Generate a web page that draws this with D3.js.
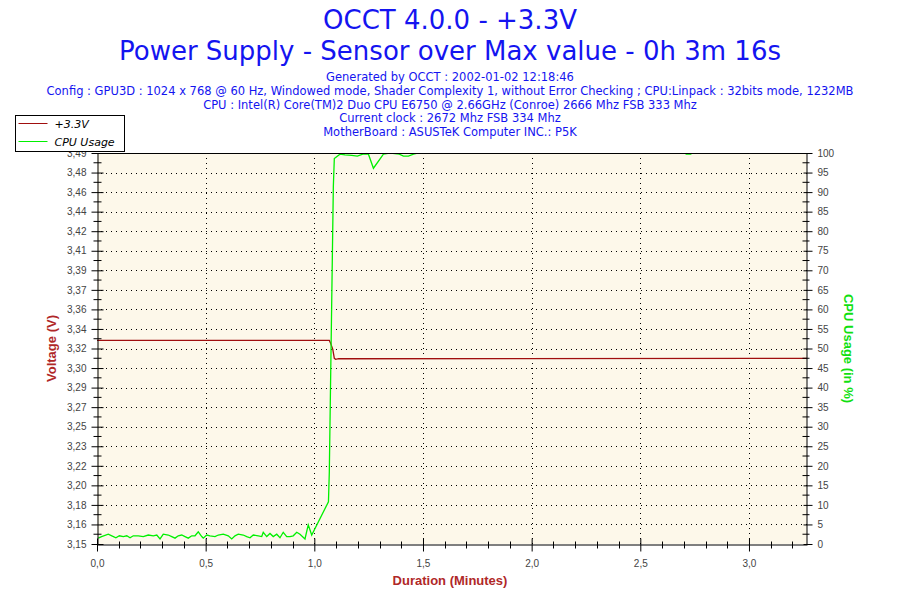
<!DOCTYPE html>
<html>
<head>
<meta charset="utf-8">
<script src="https://cdn.jsdelivr.net/npm/d3@7/dist/d3.min.js"></script>
<style>
  body { margin: 0; background: #fff; }
</style>
</head>
<body>
<svg id="chart" width="900" height="600" font-family="DejaVu Sans, Verdana, sans-serif"></svg>
<script>
// --- DATA --------------------------------------------------------------------
const titleLines = ['OCCT 4.0.0 - +3.3V', 'Power Supply - Sensor over Max value - 0h 3m 16s'];
const infoLines = [
  'Generated by OCCT : 2002-01-02 12:18:46',
  'Config : GPU3D : 1024 x 768 @ 60 Hz, Windowed mode, Shader Complexity 1, without Error Checking ; CPU:Linpack : 32bits mode, 1232MB',
  'CPU : Intel(R) Core(TM)2 Duo CPU E6750 @ 2.66GHz (Conroe) 2666 Mhz FSB 333 Mhz',
  'Current clock : 2672 Mhz FSB 334 Mhz',
  'MotherBoard : ASUSTeK Computer INC.: P5K'
];
const seriesNames = ['+3.3V', 'CPU Usage'];

const voltTickValues = [3.150, 3.167, 3.184, 3.201, 3.218, 3.235, 3.252, 3.269, 3.286, 3.303, 3.320,
                        3.337, 3.354, 3.371, 3.388, 3.405, 3.422, 3.439, 3.456, 3.473, 3.490];
const voltTickLabels = ['3,15', '3,16', '3,18', '3,20', '3,22', '3,23', '3,25', '3,27', '3,29', '3,30', '3,32',
                        '3,34', '3,36', '3,37', '3,39', '3,41', '3,42', '3,44', '3,46', '3,48', '3,49'];
const cpuTickValues = [0, 5, 10, 15, 20, 25, 30, 35, 40, 45, 50, 55, 60, 65, 70, 75, 80, 85, 90, 95, 100];
const timeTickValues = [0, 0.5, 1.0, 1.5, 2.0, 2.5, 3.0];
const timeMax = 3.267;   // 3m 16s

// voltage (minutes, volts)
const voltTimes  = [0, 1.069, 1.075, 1.085, 1.092, 1.098, 1.112, 3.267];
const voltValues = [3.327, 3.327, 3.3245, 3.3193, 3.3115, 3.3106, 3.3111, 3.3115];

// CPU usage (minutes, %)
const cpuTimes = [0.006, 0.021, 0.052, 0.068, 0.087, 0.103, 0.121, 0.137, 0.152, 0.167, 0.190, 0.213,
  0.236, 0.259, 0.275, 0.290, 0.305, 0.328, 0.344, 0.359, 0.374, 0.390, 0.405, 0.420, 0.436, 0.451,
  0.466, 0.482, 0.489, 0.505, 0.520, 0.543, 0.558, 0.581, 0.604, 0.620, 0.635, 0.650, 0.673, 0.689,
  0.704, 0.719, 0.742, 0.758, 0.765, 0.781, 0.796, 0.811, 0.827, 0.842, 0.857, 0.873, 0.888, 0.903,
  0.919, 0.934, 0.957, 0.972, 0.988, 1.065, 1.069, 1.0875, 1.092, 1.118, 1.141, 1.172, 1.198, 1.223,
  1.249, 1.272, 1.318, 1.348, 1.391, 1.410, 1.433, 1.456, 1.477, 2.708, 2.711, 2.732, 2.738, 3.267];
const cpuValues = [1.5, 1.9, 2.5, 2.1, 1.6, 2.1, 1.9, 2.1, 1.6, 2.1, 2.1, 1.9,
  2.3, 2.1, 2.3, 1.3, 2.5, 2.3, 1.9, 1.5, 2.1, 2.3, 1.9, 1.5, 2.1, 2.1,
  3.1, 1.9, 1.5, 2.3, 2.1, 1.9, 2.3, 2.5, 2.1, 1.3, 2.1, 2.5, 2.3, 1.9,
  1.6, 2.3, 2.1, 1.9, 3.0, 1.9, 2.7, 1.9, 2.5, 1.6, 3.0, 1.9, 1.9, 2.1,
  3.0, 2.5, 1.3, 4.9, 2.3, 10.8, 18.5, 91.4, 98.6, 99.7, 99.5, 99.4, 99.2, 99.7,
  99.7, 96.1, 99.7, 100, 99.7, 99.2, 99.2, 99.7, 100, 100, 99.7, 99.7, 100, 100];

// --- CONSTANTS ---------------------------------------------------------------
const PLOT = { left: 97, right: 807, top: 153, bottom: 544 };
const COL = {
  TITLE: '#1414f0',
  VOLT: '#a00e0e',
  CPU: '#00f000',
  VOLT_LABEL: '#b02828',
  CPU_LABEL: '#10e010',
  PLOT_BG: '#fdf8ea',
  TICK_TEXT: '#444'
};
const ARIAL = 'Liberation Sans, Arial, sans-serif';

const svg = d3.select('#chart');

// --- SCALES ------------------------------------------------------------------
const x = d3.scaleLinear().domain([0, timeMax]).range([PLOT.left, PLOT.right]);
const yV = d3.scaleLinear().domain([3.15, 3.49]).range([PLOT.bottom, PLOT.top]);
const yC = d3.scaleLinear().domain([0, 100]).range([PLOT.bottom, PLOT.top]);

// --- TITLES ------------------------------------------------------------------
svg.selectAll('text.title').data(titleLines).join('text')
  .attr('class', 'title')
  .attr('x', 450).attr('y', (d, i) => 29 + i * 31)
  .attr('text-anchor', 'middle')
  .attr('font-size', '26px')
  .attr('fill', COL.TITLE)
  .text(d => d);

svg.selectAll('text.info').data(infoLines).join('text')
  .attr('class', 'info')
  .attr('x', 450).attr('y', (d, i) => 81 + i * 13.8)
  .attr('text-anchor', 'middle')
  .attr('font-size', '11.5px')
  .attr('fill', COL.TITLE)
  .text(d => d);

// --- PLOT BACKGROUND + GRID --------------------------------------------------
svg.append('rect')
  .attr('x', PLOT.left).attr('y', PLOT.top)
  .attr('width', PLOT.right - PLOT.left).attr('height', PLOT.bottom - PLOT.top)
  .attr('fill', COL.PLOT_BG);

svg.append('clipPath').attr('id', 'plot-clip')
  .append('rect')
  .attr('x', PLOT.left).attr('y', PLOT.top + 1)
  .attr('width', PLOT.right - PLOT.left).attr('height', PLOT.bottom - PLOT.top - 1);

const grid = svg.append('g').attr('stroke', '#000').attr('stroke-width', 1)
  .attr('stroke-dasharray', '1,4').attr('shape-rendering', 'crispEdges');
grid.selectAll('line.h').data(voltTickValues.slice(1, -1)).join('line')
  .attr('x1', PLOT.left + 4).attr('x2', PLOT.right)
  .attr('y1', d => Math.round(yV(d)) + 0.5).attr('y2', d => Math.round(yV(d)) + 0.5);
grid.selectAll('line.v').data(timeTickValues.slice(1)).join('line')
  .attr('y1', PLOT.top).attr('y2', PLOT.bottom)
  .attr('x1', d => Math.round(x(d)) + 0.5).attr('x2', d => Math.round(x(d)) + 0.5);

// --- SERIES ------------------------------------------------------------------
const voltLine = d3.line().x(i => x(voltTimes[i])).y(i => yV(voltValues[i]));
const cpuLine = d3.line().x(i => x(cpuTimes[i])).y(i => yC(cpuValues[i]));

const series = svg.append('g').attr('clip-path', 'url(#plot-clip)');
series.append('path')
  .attr('d', voltLine(d3.range(voltTimes.length)))
  .attr('fill', 'none').attr('stroke', COL.VOLT).attr('stroke-width', 1.3);
series.append('path')
  .attr('d', cpuLine(d3.range(cpuTimes.length)))
  .attr('fill', 'none').attr('stroke', COL.CPU).attr('stroke-width', 1.3);

// --- AXES --------------------------------------------------------------------
function midpoints(vals, scale) {
  const out = [];
  for (let i = 0; i < vals.length - 1; i++) out.push(scale((vals[i] + vals[i + 1]) / 2));
  return out;
}

const axisStyle = g => {
  g.attr('font-family', ARIAL).attr('font-size', 10);
  g.selectAll('path.domain').attr('stroke', '#000');
  g.selectAll('.tick line').attr('stroke', '#000');
  g.selectAll('.tick text').attr('fill', COL.TICK_TEXT);
};

// left (voltage)
const leftG = svg.append('g').attr('transform', `translate(${PLOT.left + 0.5},0)`)
  .call(d3.axisLeft(yV).tickValues(voltTickValues)
    .tickFormat((d, i) => voltTickLabels[i]).tickSizeOuter(0).tickSizeInner(6).tickPadding(5))
  .call(axisStyle);
leftG.selectAll('.tick line').attr('x2', 6).attr('x1', -6);
leftG.selectAll('line.minor').data(midpoints(voltTickValues, yV)).join('line')
  .attr('class', 'minor').attr('stroke', '#000')
  .attr('x1', -4).attr('x2', 4).attr('y1', d => d).attr('y2', d => d);

// right (cpu)
const rightG = svg.append('g').attr('transform', `translate(${PLOT.right - 0.5},0)`)
  .call(d3.axisRight(yC).tickValues(cpuTickValues).tickSizeOuter(0).tickSizeInner(6).tickPadding(5))
  .call(axisStyle);
rightG.selectAll('.tick line').attr('x1', -3).attr('x2', 6);
rightG.selectAll('line.minor').data(midpoints(cpuTickValues, yC)).join('line')
  .attr('class', 'minor').attr('stroke', '#000')
  .attr('x1', -4).attr('x2', 3).attr('y1', d => d).attr('y2', d => d);

// bottom (time)
const fmtComma = d => d3.format('.1f')(d).replace('.', ',');
const bottomG = svg.append('g').attr('transform', `translate(0,${PLOT.bottom + 0.5})`)
  .call(d3.axisBottom(x).tickValues(timeTickValues).tickFormat(fmtComma)
    .tickSizeOuter(0).tickSizeInner(7).tickPadding(8))
  .call(axisStyle);
bottomG.selectAll('.tick line').attr('y1', -6).attr('y2', 7);
const minorTimes = d3.range(1, 33).map(k => k / 10).filter(t => Math.round(t * 10) % 5 !== 0);
bottomG.selectAll('line.minor').data(minorTimes).join('line')
  .attr('class', 'minor').attr('stroke', '#000')
  .attr('x1', d => Math.round(x(d)) + 0.5).attr('x2', d => Math.round(x(d)) + 0.5)
  .attr('y1', -3).attr('y2', 4);

// top border
svg.append('line')
  .attr('x1', PLOT.left).attr('x2', PLOT.right)
  .attr('y1', PLOT.top + 0.5).attr('y2', PLOT.top + 0.5)
  .attr('stroke', '#000');

// --- AXIS TITLES -------------------------------------------------------------
const axisTitle = (sel, fill, txt) => sel
  .attr('text-anchor', 'middle')
  .attr('font-family', ARIAL)
  .attr('font-weight', 'bold').attr('font-size', '13px')
  .attr('fill', fill)
  .text(txt);

svg.append('text')
  .attr('transform', `translate(56,${(PLOT.top + PLOT.bottom) / 2}) rotate(-90)`)
  .call(axisTitle, COL.VOLT_LABEL, 'Voltage (V)');

svg.append('text')
  .attr('transform', `translate(844,${(PLOT.top + PLOT.bottom) / 2}) rotate(90)`)
  .call(axisTitle, COL.CPU_LABEL, 'CPU Usage (in %)');

svg.append('text')
  .attr('x', 450).attr('y', 585)
  .call(axisTitle, COL.VOLT_LABEL, 'Duration (Minutes)');

// --- LEGEND ------------------------------------------------------------------
const legend = svg.append('g').attr('transform', 'translate(15.5,115.5)');
legend.append('rect')
  .attr('width', 109).attr('height', 36)
  .attr('fill', '#fff').attr('stroke', '#000');
legend.selectAll('line.key').data(seriesNames).join('line')
  .attr('class', 'key')
  .attr('x1', 3).attr('x2', 32)
  .attr('y1', (d, i) => 8 + i * 18).attr('y2', (d, i) => 8 + i * 18)
  .attr('stroke', (d, i) => i === 0 ? COL.VOLT : COL.CPU);
legend.selectAll('text').data(seriesNames).join('text')
  .attr('x', 39).attr('y', (d, i) => 12 + i * 18)
  .attr('font-size', '11px').attr('font-style', 'italic')
  .attr('fill', '#000')
  .text(d => d);
</script>
</body>
</html>
